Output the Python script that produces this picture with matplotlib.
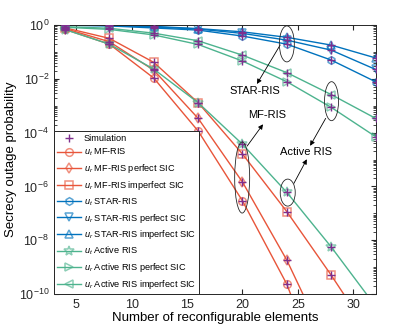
import numpy as np
import matplotlib; matplotlib.use('Agg')
import matplotlib.pyplot as plt
import matplotlib.transforms as mtransforms
from matplotlib.patches import Ellipse
from matplotlib.ticker import FixedLocator, LogLocator, NullFormatter

plt.rcParams['font.family'] = ['Liberation Sans', 'DejaVu Sans']
plt.rcParams['mathtext.fontset'] = 'custom'
plt.rcParams['mathtext.rm'] = 'Liberation Sans'
plt.rcParams['mathtext.it'] = 'Liberation Sans:italic'

# ── Data ──────────────────────────────────────────────────────────────────────
N_elem = [4, 8, 12, 16, 20, 24, 28, 32]

mf_ut      = [0.69, 0.195, 1.07e-2, 1.15e-4, 2.9e-7, 2.3e-10, 1e-14, 1e-18]
mf_ur_p    = [0.74, 0.24, 2.1e-2, 3.4e-4, 1.45e-6, 1.8e-9, 6e-13, 1e-16]
mf_ur_ip   = [0.79, 0.32, 4.1e-2, 1.3e-3, 1.6e-5, 1.15e-7, 5e-10, 1.6e-12]

star_ut    = [0.99, 0.93, 0.78, 0.65, 0.39, 0.195, 0.050, 7.8e-3]
star_ur_p  = [0.99, 0.955, 0.85, 0.71, 0.49, 0.275, 0.117, 2.24e-2]
star_ur_ip = [1.0, 0.98, 0.89, 0.74, 0.56, 0.35, 0.18, 0.060]

act_ut     = [0.68, 0.195, 2.3e-2, 1.3e-3, 3.7e-5, 6.0e-7, 5.6e-9, 3.5e-11]
act_ur_p   = [0.83, 0.69, 0.43, 0.19, 0.046, 7.8e-3, 8.7e-4, 7.1e-5]
act_ur_ip  = [0.87, 0.76, 0.50, 0.26, 0.076, 1.7e-2, 2.6e-3, 3.4e-4]

labels = [r'$u_t$ MF-RIS', r'$u_r$ MF-RIS perfect SIC', r'$u_r$ MF-RIS imperfect SIC',
          r'$u_t$ STAR-RIS', r'$u_r$ STAR-RIS perfect SIC', r'$u_r$ STAR-RIS imperfect SIC',
          r'$u_t$ Active RIS', r'$u_r$ Active RIS perfect SIC', r'$u_r$ Active RIS imperfect SIC']

RED, BLUE, GREEN, PURPLE = '#E8553A', '#0072BD', '#4DB38E', '#7E2F8E'
series = [
    (mf_ut, RED, 'o'), (mf_ur_p, RED, 'd'), (mf_ur_ip, RED, 's'),
    (star_ut, BLUE, 'h'), (star_ur_p, BLUE, 'v'), (star_ur_ip, BLUE, '^'),
    (act_ut, GREEN, '*'), (act_ur_p, GREEN, '>'), (act_ur_ip, GREEN, '<'),
]

# ── Figure ────────────────────────────────────────────────────────────────────
fig = plt.figure(figsize=(4.15, 3.32), dpi=100)
ax = fig.add_axes([0.130, 0.1145, 0.775, 0.810])

handles = []
h_sim, = ax.plot(N_elem, mf_ut, ls='none', marker='+', color=PURPLE, ms=6, mew=1.0,
                 label='Simulation', zorder=1)
h_sim.remove()
handles.append(h_sim)
for (vals, c, m), lbl in zip(series, labels):
    ms = 7 if m == '*' else 5.5
    h, = ax.plot(N_elem, vals, color=c, lw=1.0, marker=m, ms=ms, mfc='none',
                 mec=matplotlib.colors.to_rgba(c, 0.65), mew=1.1, label=lbl, zorder=2)
    handles.append(h)
for vals, c, m in series:
    ax.plot(N_elem, vals, ls='none', marker='+', color=PURPLE, ms=6, mew=1.0, zorder=3)

ax.set_yscale('log')
ax.set_xlim(3, 32)
ax.set_ylim(1e-10, 1)
ax.yaxis.set_major_locator(FixedLocator([1e0, 1e-2, 1e-4, 1e-6, 1e-8, 1e-10]))
ax.yaxis.set_minor_locator(LogLocator(base=10, subs=np.arange(1, 10), numticks=30))
ax.yaxis.set_minor_formatter(NullFormatter())
ax.set_xticks([5, 10, 15, 20, 25, 30])
ax.tick_params(which='both', direction='in', top=True, right=True, labelsize=9,
               colors='#262626')
ax.tick_params(which='major', length=3.5)
ax.tick_params(which='minor', length=2)
for sp in ax.spines.values():
    sp.set_color('#262626'); sp.set_linewidth(0.7)
ax.set_xlabel('Number of reconfigurable elements', fontsize=9.5, labelpad=1)
ax.set_ylabel('Secrecy outage probability', fontsize=9.5, labelpad=1)

leg = ax.legend(handles=handles, loc='lower left', bbox_to_anchor=(0, 0),
                borderaxespad=0, fontsize=6.6, handlelength=2.6, handletextpad=0.3,
                labelspacing=0.4, fancybox=False, edgecolor='#262626', framealpha=1,
                borderpad=0.35)
leg.get_frame().set_linewidth(0.7)

# ── Ellipses and annotations ──────────────────────────────────────────────────
def ellipse(x, y, w_px, h_px):
    tr = fig.dpi_scale_trans + mtransforms.ScaledTranslation(x, y, ax.transData)
    ax.add_patch(Ellipse((0, 0), w_px / 100, h_px / 100, transform=tr,
                         fill=False, ec='#262626', lw=0.6, zorder=4))

def arrow(x0, y0, x1, y1):
    ax.annotate('', xy=(x1, y1), xytext=(x0, y0),
                arrowprops=dict(arrowstyle='-|>', color='black', lw=0.6,
                                mutation_scale=7, shrinkA=0, shrinkB=0))

ellipse(24.0, 10**-0.70, 15, 36)
ellipse(28.03, 10**-2.83, 14, 39)
ellipse(19.97, 10**-5.67, 15, 71)
ellipse(24.08, 10**-6.23, 15, 27)

ax.text(21.14, 10**-2.45, 'STAR-RIS', fontsize=8, ha='center', va='center')
ax.text(22.25, 10**-3.36, 'MF-RIS', fontsize=8, ha='center', va='center')
ax.text(25.7, 10**-4.71, 'Active RIS', fontsize=8, ha='center', va='center')

arrow(23.4, 10**-0.74, 21.3, 10**-2.19)
arrow(20.42, 10**-4.50, 21.85, 10**-3.69)
arrow(27.5, 10**-3.47, 26.1, 10**-4.49)
arrow(24.63, 10**-5.89, 25.8, 10**-4.99)

fig.savefig('out.png', dpi=100)
